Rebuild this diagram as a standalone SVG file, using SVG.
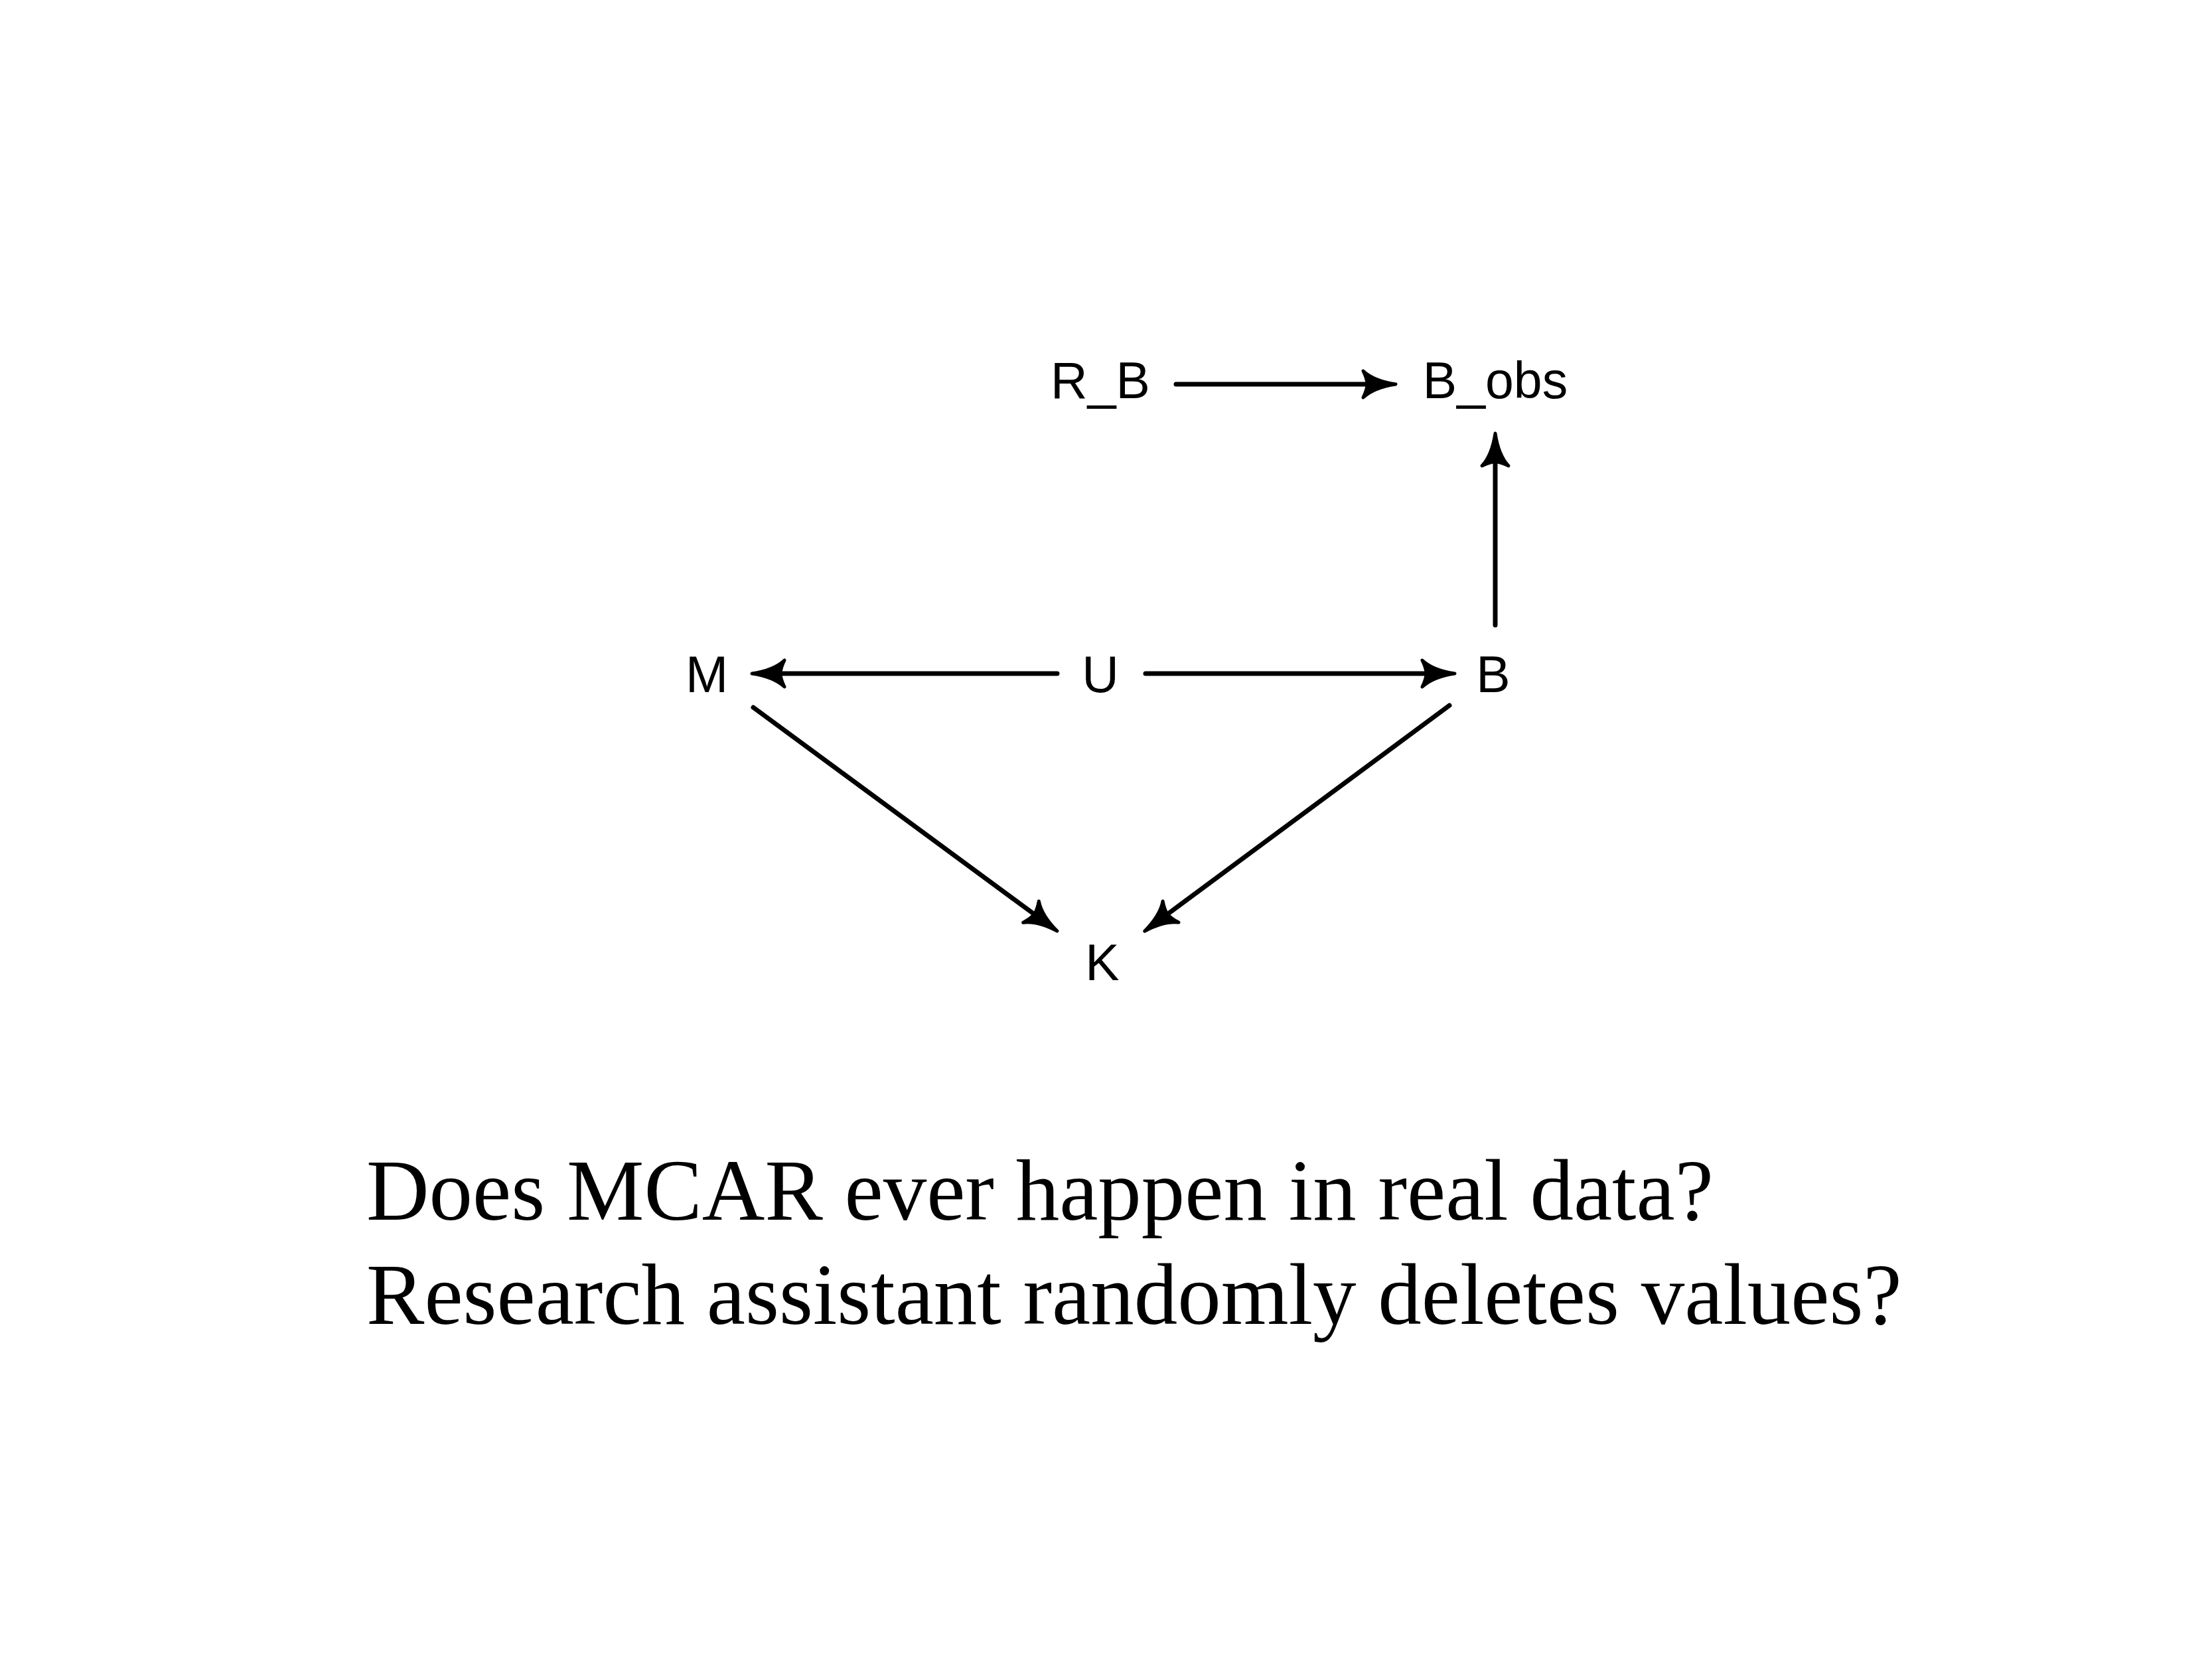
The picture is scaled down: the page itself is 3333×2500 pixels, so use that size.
<svg xmlns="http://www.w3.org/2000/svg" width="3333" height="2500" viewBox="0 0 3333 2500">
<style>
.lbl{font-family:"Liberation Sans",Arial,sans-serif;font-size:77px;fill:#000;text-anchor:middle}
.cap{font-family:"Liberation Serif","Times New Roman",serif;font-size:131px;fill:#000}
.edge{stroke:#000;stroke-width:7;stroke-linecap:round;fill:none;marker-end:url(#ah)}
</style>
<defs>
<marker id="ah" viewBox="-56 -26 62 52" markerWidth="62" markerHeight="52" markerUnits="userSpaceOnUse" refX="-44" refY="0" orient="auto">
<path d="M0,0 Q-33,5 -49,20 Q-43,8 -43,0 Q-43,-8 -49,-20 Q-33,-5 0,0 Z" fill="#000" stroke="#000" stroke-width="5" stroke-linejoin="round"/>
</marker>
</defs>
<rect width="3333" height="2500" fill="#fff"/>
<g id="connectors">
<line class="edge" x1="1772" y1="579" x2="2059" y2="579"/>
<line class="edge" x1="2253" y1="942" x2="2253" y2="697"/>
<line class="edge" x1="1593" y1="1015" x2="1177" y2="1015"/>
<line class="edge" x1="1726" y1="1015" x2="2148" y2="1015"/>
<line class="edge" x1="1135" y1="1066" x2="1557.5" y2="1377"/>
<line class="edge" x1="2184" y1="1063" x2="1760" y2="1377"/>
</g>
<g id="node-R_B"><text class="lbl" x="1658" y="600">R_B</text></g>
<g id="node-B_obs"><text class="lbl" x="2253" y="600">B_obs</text></g>
<g id="node-M"><text class="lbl" x="1065" y="1043">M</text></g>
<g id="node-U"><text class="lbl" x="1658" y="1043">U</text></g>
<g id="node-B"><text class="lbl" x="2250" y="1043">B</text></g>
<g id="node-K"><text class="lbl" x="1661" y="1477">K</text></g>
<g id="caption">
<text class="cap" x="552" y="1838">Does MCAR ever happen in real data?</text>
<text class="cap" x="552" y="1995">Research assistant randomly deletes values?</text>
</g>
</svg>
